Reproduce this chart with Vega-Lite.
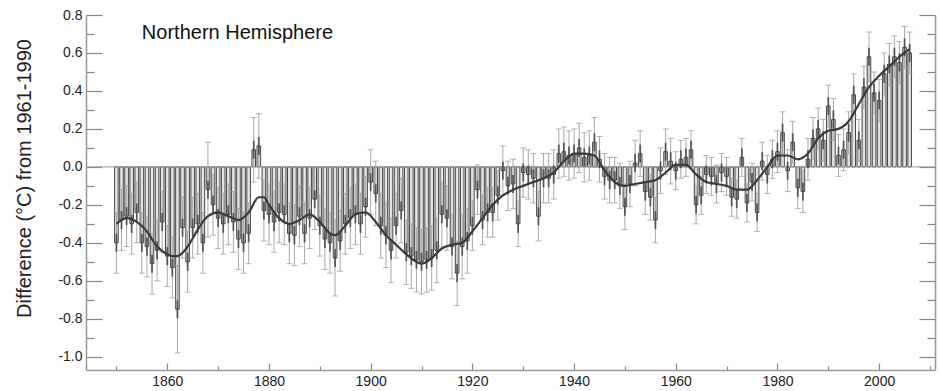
{
  "$schema": "https://vega.github.io/schema/vega-lite/v6.json",
  "width": 849,
  "height": 355,
  "autosize": "none",
  "padding": {"left": 86, "top": 15, "right": 5, "bottom": 21},
  "background": "white",
  "config": {"view": {"stroke": null}, "font": "Liberation Sans"},
  "datasets": {
    "nh": [
      {"year":1850,"v":-0.40,"lo":-0.56,"hi":-0.24},{"year":1851,"v":-0.28,"lo":-0.44,"hi":-0.12},{"year":1852,"v":-0.26,"lo":-0.42,"hi":-0.10},{"year":1853,"v":-0.30,"lo":-0.46,"hi":-0.14},{"year":1854,"v":-0.24,"lo":-0.40,"hi":-0.08},
      {"year":1855,"v":-0.40,"lo":-0.56,"hi":-0.24},{"year":1856,"v":-0.42,"lo":-0.58,"hi":-0.26},{"year":1857,"v":-0.51,"lo":-0.67,"hi":-0.35},{"year":1858,"v":-0.44,"lo":-0.60,"hi":-0.28},{"year":1859,"v":-0.29,"lo":-0.45,"hi":-0.13},
      {"year":1860,"v":-0.47,"lo":-0.63,"hi":-0.31},{"year":1861,"v":-0.53,"lo":-0.69,"hi":-0.37},{"year":1862,"v":-0.75,"lo":-0.98,"hi":-0.52},{"year":1863,"v":-0.32,"lo":-0.48,"hi":-0.16},{"year":1864,"v":-0.50,"lo":-0.66,"hi":-0.34},
      {"year":1865,"v":-0.32,"lo":-0.48,"hi":-0.16},{"year":1866,"v":-0.30,"lo":-0.46,"hi":-0.14},{"year":1867,"v":-0.40,"lo":-0.56,"hi":-0.24},{"year":1868,"v":-0.12,"lo":-0.37,"hi":0.13},{"year":1869,"v":-0.20,"lo":-0.36,"hi":-0.04},
      {"year":1870,"v":-0.27,"lo":-0.43,"hi":-0.11},{"year":1871,"v":-0.30,"lo":-0.46,"hi":-0.14},{"year":1872,"v":-0.25,"lo":-0.41,"hi":-0.09},{"year":1873,"v":-0.29,"lo":-0.45,"hi":-0.13},{"year":1874,"v":-0.38,"lo":-0.54,"hi":-0.22},
      {"year":1875,"v":-0.40,"lo":-0.56,"hi":-0.24},{"year":1876,"v":-0.35,"lo":-0.51,"hi":-0.19},{"year":1877,"v":0.09,"lo":-0.08,"hi":0.26},{"year":1878,"v":0.11,"lo":-0.06,"hi":0.28},{"year":1879,"v":-0.23,"lo":-0.39,"hi":-0.07},
      {"year":1880,"v":-0.25,"lo":-0.41,"hi":-0.09},{"year":1881,"v":-0.29,"lo":-0.45,"hi":-0.13},{"year":1882,"v":-0.24,"lo":-0.40,"hi":-0.08},{"year":1883,"v":-0.25,"lo":-0.41,"hi":-0.09},{"year":1884,"v":-0.35,"lo":-0.51,"hi":-0.19},
      {"year":1885,"v":-0.36,"lo":-0.52,"hi":-0.20},{"year":1886,"v":-0.26,"lo":-0.42,"hi":-0.10},{"year":1887,"v":-0.35,"lo":-0.51,"hi":-0.19},{"year":1888,"v":-0.27,"lo":-0.43,"hi":-0.11},{"year":1889,"v":-0.17,"lo":-0.33,"hi":-0.01},
      {"year":1890,"v":-0.31,"lo":-0.47,"hi":-0.15},{"year":1891,"v":-0.38,"lo":-0.54,"hi":-0.22},{"year":1892,"v":-0.40,"lo":-0.56,"hi":-0.24},{"year":1893,"v":-0.48,"lo":-0.68,"hi":-0.28},{"year":1894,"v":-0.39,"lo":-0.55,"hi":-0.23},
      {"year":1895,"v":-0.30,"lo":-0.46,"hi":-0.14},{"year":1896,"v":-0.27,"lo":-0.43,"hi":-0.11},{"year":1897,"v":-0.25,"lo":-0.41,"hi":-0.09},{"year":1898,"v":-0.30,"lo":-0.46,"hi":-0.14},{"year":1899,"v":-0.21,"lo":-0.37,"hi":-0.05},
      {"year":1900,"v":-0.08,"lo":-0.25,"hi":0.09},{"year":1901,"v":-0.14,"lo":-0.31,"hi":0.03},{"year":1902,"v":-0.31,"lo":-0.48,"hi":-0.14},{"year":1903,"v":-0.36,"lo":-0.53,"hi":-0.19},{"year":1904,"v":-0.44,"lo":-0.61,"hi":-0.27},
      {"year":1905,"v":-0.31,"lo":-0.48,"hi":-0.14},{"year":1906,"v":-0.23,"lo":-0.40,"hi":-0.06},{"year":1907,"v":-0.45,"lo":-0.62,"hi":-0.28},{"year":1908,"v":-0.47,"lo":-0.64,"hi":-0.30},{"year":1909,"v":-0.49,"lo":-0.66,"hi":-0.32},
      {"year":1910,"v":-0.50,"lo":-0.67,"hi":-0.33},{"year":1911,"v":-0.49,"lo":-0.66,"hi":-0.32},{"year":1912,"v":-0.48,"lo":-0.65,"hi":-0.31},{"year":1913,"v":-0.44,"lo":-0.61,"hi":-0.27},{"year":1914,"v":-0.25,"lo":-0.42,"hi":-0.08},
      {"year":1915,"v":-0.27,"lo":-0.44,"hi":-0.10},{"year":1916,"v":-0.42,"lo":-0.59,"hi":-0.25},{"year":1917,"v":-0.56,"lo":-0.73,"hi":-0.39},{"year":1918,"v":-0.42,"lo":-0.59,"hi":-0.25},{"year":1919,"v":-0.39,"lo":-0.56,"hi":-0.22},
      {"year":1920,"v":-0.31,"lo":-0.44,"hi":-0.18},{"year":1921,"v":-0.12,"lo":-0.25,"hi":0.01},{"year":1922,"v":-0.28,"lo":-0.41,"hi":-0.15},{"year":1923,"v":-0.24,"lo":-0.37,"hi":-0.11},{"year":1924,"v":-0.24,"lo":-0.37,"hi":-0.11},
      {"year":1925,"v":-0.15,"lo":-0.28,"hi":-0.02},{"year":1926,"v":-0.02,"lo":-0.15,"hi":0.11},{"year":1927,"v":-0.10,"lo":-0.23,"hi":0.03},{"year":1928,"v":-0.09,"lo":-0.22,"hi":0.04},{"year":1929,"v":-0.30,"lo":-0.42,"hi":-0.18},
      {"year":1930,"v":-0.03,"lo":-0.16,"hi":0.10},{"year":1931,"v":-0.04,"lo":-0.17,"hi":0.09},{"year":1932,"v":-0.06,"lo":-0.19,"hi":0.07},{"year":1933,"v":-0.26,"lo":-0.39,"hi":-0.13},{"year":1934,"v":-0.06,"lo":-0.19,"hi":0.07},
      {"year":1935,"v":-0.06,"lo":-0.19,"hi":0.07},{"year":1936,"v":-0.04,"lo":-0.17,"hi":0.09},{"year":1937,"v":0.07,"lo":-0.06,"hi":0.20},{"year":1938,"v":0.08,"lo":-0.05,"hi":0.21},{"year":1939,"v":0.06,"lo":-0.07,"hi":0.19},
      {"year":1940,"v":0.07,"lo":-0.06,"hi":0.20},{"year":1941,"v":0.10,"lo":-0.03,"hi":0.23},{"year":1942,"v":0.05,"lo":-0.08,"hi":0.18},{"year":1943,"v":0.06,"lo":-0.07,"hi":0.19},{"year":1944,"v":0.13,"lo":0.00,"hi":0.26},
      {"year":1945,"v":0.04,"lo":-0.08,"hi":0.16},{"year":1946,"v":-0.05,"lo":-0.17,"hi":0.07},{"year":1947,"v":-0.07,"lo":-0.19,"hi":0.05},{"year":1948,"v":-0.07,"lo":-0.19,"hi":0.05},{"year":1949,"v":-0.10,"lo":-0.22,"hi":0.02},
      {"year":1950,"v":-0.21,"lo":-0.33,"hi":-0.09},{"year":1951,"v":-0.09,"lo":-0.21,"hi":0.03},{"year":1952,"v":0.02,"lo":-0.10,"hi":0.14},{"year":1953,"v":0.07,"lo":-0.05,"hi":0.19},{"year":1954,"v":-0.13,"lo":-0.25,"hi":-0.01},
      {"year":1955,"v":-0.16,"lo":-0.28,"hi":-0.04},{"year":1956,"v":-0.28,"lo":-0.40,"hi":-0.16},{"year":1957,"v":-0.02,"lo":-0.14,"hi":0.10},{"year":1958,"v":0.08,"lo":-0.04,"hi":0.20},{"year":1959,"v":0.03,"lo":-0.09,"hi":0.15},
      {"year":1960,"v":-0.02,"lo":-0.12,"hi":0.08},{"year":1961,"v":0.04,"lo":-0.06,"hi":0.14},{"year":1962,"v":0.05,"lo":-0.05,"hi":0.15},{"year":1963,"v":0.09,"lo":-0.01,"hi":0.19},{"year":1964,"v":-0.20,"lo":-0.30,"hi":-0.10},
      {"year":1965,"v":-0.15,"lo":-0.25,"hi":-0.05},{"year":1966,"v":-0.04,"lo":-0.14,"hi":0.06},{"year":1967,"v":-0.05,"lo":-0.15,"hi":0.05},{"year":1968,"v":-0.09,"lo":-0.19,"hi":0.01},{"year":1969,"v":-0.03,"lo":-0.13,"hi":0.07},
      {"year":1970,"v":-0.05,"lo":-0.15,"hi":0.05},{"year":1971,"v":-0.16,"lo":-0.26,"hi":-0.06},{"year":1972,"v":-0.17,"lo":-0.27,"hi":-0.07},{"year":1973,"v":0.05,"lo":-0.05,"hi":0.15},{"year":1974,"v":-0.19,"lo":-0.29,"hi":-0.09},
      {"year":1975,"v":-0.08,"lo":-0.18,"hi":0.02},{"year":1976,"v":-0.24,"lo":-0.34,"hi":-0.14},{"year":1977,"v":0.03,"lo":-0.07,"hi":0.13},{"year":1978,"v":-0.04,"lo":-0.14,"hi":0.06},{"year":1979,"v":0.04,"lo":-0.06,"hi":0.14},
      {"year":1980,"v":0.08,"lo":-0.03,"hi":0.19},{"year":1981,"v":0.18,"lo":0.07,"hi":0.29},{"year":1982,"v":-0.02,"lo":-0.13,"hi":0.09},{"year":1983,"v":0.13,"lo":0.02,"hi":0.24},{"year":1984,"v":-0.11,"lo":-0.22,"hi":0.00},
      {"year":1985,"v":-0.13,"lo":-0.24,"hi":-0.02},{"year":1986,"v":0.04,"lo":-0.07,"hi":0.15},{"year":1987,"v":0.15,"lo":0.04,"hi":0.26},{"year":1988,"v":0.20,"lo":0.09,"hi":0.31},{"year":1989,"v":0.14,"lo":0.03,"hi":0.25},
      {"year":1990,"v":0.32,"lo":0.21,"hi":0.43},{"year":1991,"v":0.25,"lo":0.14,"hi":0.36},{"year":1992,"v":0.06,"lo":-0.05,"hi":0.17},{"year":1993,"v":0.09,"lo":-0.02,"hi":0.20},{"year":1994,"v":0.18,"lo":0.07,"hi":0.29},
      {"year":1995,"v":0.38,"lo":0.27,"hi":0.49},{"year":1996,"v":0.14,"lo":0.03,"hi":0.25},{"year":1997,"v":0.42,"lo":0.31,"hi":0.53},{"year":1998,"v":0.58,"lo":0.45,"hi":0.71},{"year":1999,"v":0.39,"lo":0.28,"hi":0.50},
      {"year":2000,"v":0.35,"lo":0.24,"hi":0.46},{"year":2001,"v":0.49,"lo":0.38,"hi":0.60},{"year":2002,"v":0.54,"lo":0.43,"hi":0.65},{"year":2003,"v":0.58,"lo":0.47,"hi":0.69},{"year":2004,"v":0.55,"lo":0.44,"hi":0.66},
      {"year":2005,"v":0.63,"lo":0.52,"hi":0.74},{"year":2006,"v":0.60,"lo":0.49,"hi":0.71}
    ],
    "smooth": [
      {"year":1850,"s":-0.30},{"year":1852,"s":-0.27},{"year":1854,"s":-0.29},{"year":1856,"s":-0.34},{"year":1858,"s":-0.42},{"year":1860,"s":-0.46},{"year":1861,"s":-0.47},{"year":1862,"s":-0.47},{"year":1864,"s":-0.42},{"year":1866,"s":-0.33},{"year":1868,"s":-0.26},{"year":1870,"s":-0.24},{"year":1872,"s":-0.26},{"year":1874,"s":-0.28},{"year":1876,"s":-0.24},{"year":1878,"s":-0.16},{"year":1879,"s":-0.16},{"year":1880,"s":-0.20},{"year":1882,"s":-0.27},{"year":1884,"s":-0.30},{"year":1886,"s":-0.28},{"year":1888,"s":-0.25},{"year":1890,"s":-0.29},{"year":1892,"s":-0.35},{"year":1893,"s":-0.36},{"year":1895,"s":-0.31},{"year":1897,"s":-0.25},{"year":1899,"s":-0.24},{"year":1901,"s":-0.29},{"year":1903,"s":-0.36},{"year":1905,"s":-0.41},{"year":1907,"s":-0.46},{"year":1909,"s":-0.50},{"year":1910,"s":-0.51},{"year":1912,"s":-0.48},{"year":1914,"s":-0.43},{"year":1916,"s":-0.41},{"year":1918,"s":-0.40},{"year":1920,"s":-0.34},{"year":1922,"s":-0.27},{"year":1924,"s":-0.20},{"year":1926,"s":-0.15},{"year":1928,"s":-0.12},{"year":1930,"s":-0.10},{"year":1932,"s":-0.08},{"year":1934,"s":-0.06},{"year":1936,"s":-0.03},{"year":1938,"s":0.03},{"year":1940,"s":0.07},{"year":1942,"s":0.07},{"year":1944,"s":0.06},{"year":1946,"s":-0.02},{"year":1948,"s":-0.08},{"year":1950,"s":-0.10},{"year":1952,"s":-0.09},{"year":1954,"s":-0.08},{"year":1956,"s":-0.07},{"year":1958,"s":-0.03},{"year":1960,"s":0.01},{"year":1962,"s":0.01},{"year":1964,"s":-0.04},{"year":1966,"s":-0.08},{"year":1968,"s":-0.09},{"year":1970,"s":-0.10},{"year":1972,"s":-0.12},{"year":1974,"s":-0.12},{"year":1976,"s":-0.07},{"year":1978,"s":0.00},{"year":1980,"s":0.06},{"year":1982,"s":0.06},{"year":1984,"s":0.04},{"year":1986,"s":0.07},{"year":1988,"s":0.15},{"year":1990,"s":0.19},{"year":1992,"s":0.20},{"year":1994,"s":0.24},{"year":1996,"s":0.33},{"year":1998,"s":0.42},{"year":2000,"s":0.48},{"year":2002,"s":0.53},{"year":2004,"s":0.58},{"year":2006,"s":0.62}
    ],
    "label": [{"year": 1855, "val": 0.705, "text": "Northern Hemisphere"}],
    "zero": [{"z": 0}]
  },
  "resolve": {"axis": {"y": "independent"}},
  "layer": [
    {
      "data": {"name": "nh"},
      "mark": {"type": "bar", "width": 3.6, "fill": "#e4e4e4", "stroke": "#333333", "strokeWidth": 0.9},
      "encoding": {
        "x": {"field": "year", "type": "quantitative", "scale": {"domain": [1845, 2010], "nice": false, "zero": false},
          "axis": {"values": [1850,1860,1870,1880,1890,1900,1910,1920,1930,1940,1950,1960,1970,1980,1990,2000,2010],
            "labelExpr": "datum.value % 20 == 0 ? '' + datum.value : ''",
            "tickSize": {"condition": {"test": "datum.value % 20 == 0", "value": -7}, "value": -4},
            "tickColor": "#888", "tickWidth": 1.2, "labelPadding": 11,
            "domainColor": "#999", "domainWidth": 1.5, "grid": false, "title": null,
            "labelFontSize": 14, "labelColor": "#222", "labelFont": "Liberation Sans"}},
        "y": {"field": "v", "type": "quantitative", "scale": {"domain": [-1.07, 0.8], "nice": false, "zero": false},
          "axis": {"orient": "left", "values": [-1.0,-0.9,-0.8,-0.7,-0.6,-0.5,-0.4,-0.3,-0.2,-0.1,0,0.1,0.2,0.3,0.4,0.5,0.6,0.7,0.8],
            "labelExpr": "abs(round(datum.value*10)) % 2 == 0 ? replace(format(datum.value, '.1f'), '\u2212', '-') : ''",
            "tickSize": {"condition": {"test": "abs(round(datum.value*10)) % 2 == 0", "value": -16}, "value": -8},
            "tickColor": "#888", "tickWidth": 1.2, "labelPadding": 20,
            "domainColor": "#999", "domainWidth": 1.5, "grid": false,
            "title": "Difference (°C) from 1961-1990", "titleFontSize": 20, "titleFontWeight": "normal", "titleColor": "#222",
            "titleFont": "Liberation Sans", "titleX": -62, "titleY": 163, "titleAngle": -90, "titleBaseline": "middle", "titleAlign": "center",
            "labelFontSize": 14, "labelColor": "#222", "labelFont": "Liberation Sans"}},
        "y2": {"datum": 0}
      }
    },
    {
      "data": {"name": "zero"},
      "mark": {"type": "rule", "color": "#999", "strokeWidth": 1},
      "encoding": {
        "y": {"field": "z", "type": "quantitative",
          "axis": {"orient": "right", "values": [-1.0,-0.9,-0.8,-0.7,-0.6,-0.5,-0.4,-0.3,-0.2,-0.1,0,0.1,0.2,0.3,0.4,0.5,0.6,0.7,0.8],
            "labels": false, "title": null, "grid": false,
            "tickSize": {"condition": {"test": "abs(round(datum.value*10)) % 2 == 0", "value": -16}, "value": -8},
            "tickColor": "#888", "tickWidth": 1.2, "domainColor": "#999", "domainWidth": 1.5}}
      }
    },
    {
      "data": {"name": "nh"},
      "mark": {"type": "rule", "color": "#a8a8a8", "strokeWidth": 1},
      "encoding": {
        "x": {"field": "year", "type": "quantitative"},
        "y": {"field": "lo", "type": "quantitative", "axis": null},
        "y2": {"field": "hi"}
      }
    },
    {
      "data": {"name": "nh"},
      "mark": {"type": "tick", "orient": "horizontal", "size": 6, "thickness": 1, "color": "#999"},
      "encoding": {
        "x": {"field": "year", "type": "quantitative"},
        "y": {"field": "lo", "type": "quantitative", "axis": null}
      }
    },
    {
      "data": {"name": "nh"},
      "mark": {"type": "tick", "orient": "horizontal", "size": 6, "thickness": 1, "color": "#999"},
      "encoding": {
        "x": {"field": "year", "type": "quantitative"},
        "y": {"field": "hi", "type": "quantitative", "axis": null}
      }
    },
    {
      "data": {"name": "nh"},
      "mark": {"type": "tick", "orient": "vertical", "size": 18, "thickness": 1.8, "color": "#2a2a2a"},
      "encoding": {
        "x": {"field": "year", "type": "quantitative"},
        "y": {"field": "v", "type": "quantitative", "axis": null}
      }
    },
    {
      "data": {"name": "smooth"},
      "mark": {"type": "line", "color": "#3a3a3a", "strokeWidth": 2.2, "interpolate": "monotone"},
      "encoding": {
        "x": {"field": "year", "type": "quantitative"},
        "y": {"field": "s", "type": "quantitative", "axis": null}
      }
    },
    {
      "data": {"name": "label"},
      "mark": {"type": "text", "align": "left", "baseline": "middle", "fontSize": 20, "font": "Liberation Sans", "color": "#111"},
      "encoding": {
        "x": {"field": "year", "type": "quantitative"},
        "y": {"field": "val", "type": "quantitative", "axis": null},
        "text": {"field": "text"}
      }
    }
  ]
}
